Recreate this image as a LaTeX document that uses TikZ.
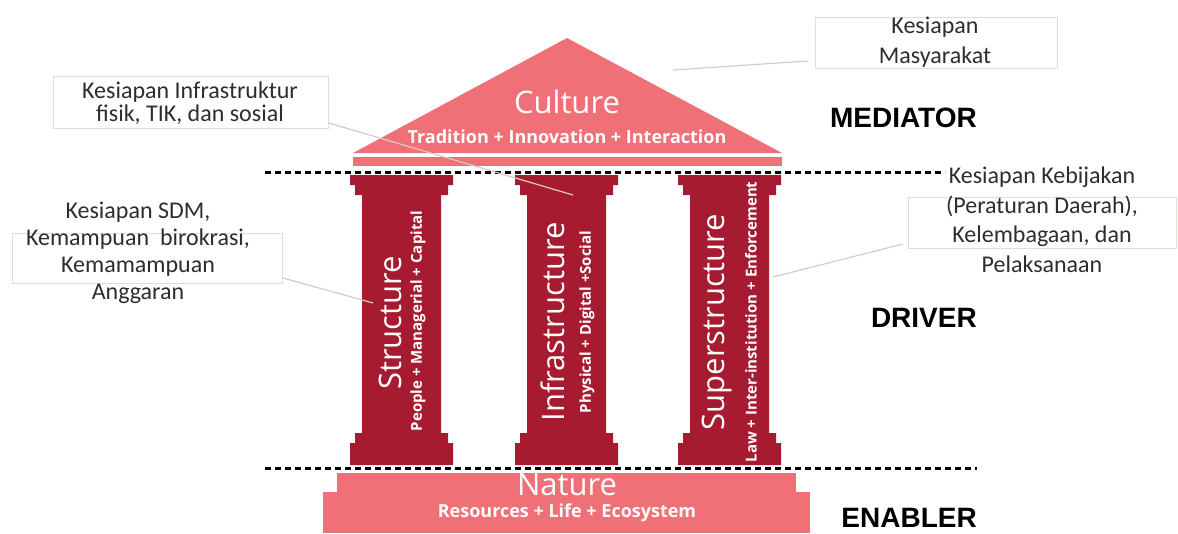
\documentclass[tikz,border=0pt]{standalone}
\usepackage{fontspec}
\setmainfont{Carlito}
\newfontfamily\pillarfont{Open Sans}
\newfontfamily\levelfont{Liberation Sans}
\definecolor{roofpink}{RGB}{240,112,120}
\definecolor{pillarred}{RGB}{166,27,48}
\definecolor{boxline}{RGB}{230,220,212}
\definecolor{leadline}{RGB}{222,200,196}
\definecolor{notetext}{RGB}{45,45,45}
\tikzset{
  title/.style={text=white, font=\pillarfont\fontsize{31}{31}\selectfont, inner sep=0pt},
  subtitle/.style={text=white, font=\pillarfont\bfseries\fontsize{15}{15}\selectfont, inner sep=0pt},
  bigsub/.style={subtitle, font=\pillarfont\bfseries\fontsize{18}{18}\selectfont},
  level/.style={anchor=east, font=\levelfont\bfseries\fontsize{28}{28}\selectfont, inner sep=0pt},
  note/.style={text=notetext, align=center, inner sep=0pt},
  notebox/.style={draw=boxline, line width=1pt, inner sep=0pt, anchor=north west},
  leader/.style={draw=leadline, line width=1.2pt},
  divider/.style={line width=3pt, dash pattern=on 6pt off 4pt}
}
\begin{document}
\begin{tikzpicture}[x=1pt, y=-1pt]
    \useasboundingbox (0,0) rectangle (1178,533);
    % note boxes (behind everything)
    \node[notebox, minimum width=275, minimum height=52] (infrabox) at (53,76) {};
    \node[notebox, minimum width=270, minimum height=50] (sdmbox) at (12,233) {};
    \node[notebox, minimum width=242, minimum height=51] (masbox) at (815,17) {};
    \node[notebox, minimum width=268, minimum height=51] (kebbox) at (908,197) {};
    % roof
    \fill[roofpink] (353,153) -- (567,38) -- (782,153) -- cycle;
    \fill[roofpink] (353,157) rectangle (782,166);
    \node[title] (culture) at (567,102) {Culture};
    \node[bigsub] (culturesub) at (567,137) {Tradition + Innovation + Interaction};
    % pillars
    \foreach \px in {350,515,678} {
        \fill[pillarred] (\px,175) -- (\px+103,175) -- (\px+103,185) -- (\px+98,185) -- (\px+98,195)
            -- (\px+91,195) -- (\px+91,433) -- (\px+98,433) -- (\px+98,443) -- (\px+103,443)
            -- (\px+103,465) -- (\px,465) -- (\px,443) -- (\px+5,443) -- (\px+5,433)
            -- (\px+12,433) -- (\px+12,195) -- (\px+5,195) -- (\px+5,185) -- (\px,185) -- cycle;
    }
    \node[title, rotate=90] (structure) at (390,323) {Structure};
    \node[subtitle, rotate=90] (structuresub) at (418,321) {People + Managerial + Capital};
    \node[title, rotate=90] (infra) at (553,322) {Infrastructure};
    \node[subtitle, rotate=90] (infrasub) at (587,322) {Physical + Digital +Social};
    \node[title, rotate=90] (super) at (717,322) {Superstructure};
    \node[subtitle, rotate=90] (supersub) at (751,322) {Law + Inter-institution + Enforcement};
    % base
    \fill[roofpink] (337,473) rectangle (796,492);
    \fill[roofpink] (323,492) rectangle (810,533);
    \node[title] (nature) at (567,485) {Nature};
    \node[bigsub] (naturesub) at (567,513) {Resources + Life + Ecosystem};
    % dividers
    \draw[divider] (265,172) -- (945,172);
    \draw[divider] (265,468) -- (977,468);
    % levels
    \node[level] (mediator) at (977,118) {MEDIATOR};
    \node[level] (driver) at (977,318) {DRIVER};
    \node[level] (enabler) at (977,518) {ENABLER};
    % notes
    \node[note, font=\fontsize{24}{23}\selectfont] (infranote) at (190,103) {Kesiapan Infrastruktur\\fisik, TIK, dan sosial};
    \node[note, font=\fontsize{24}{27}\selectfont] (sdmnote) at (138,253) {Kesiapan SDM,\\Kemampuan \ birokrasi,\\Kemamampuan\\Anggaran};
    \node[note, font=\fontsize{24}{30}\selectfont] (masnote) at (935,42) {Kesiapan\\Masyarakat};
    \node[note, font=\fontsize{24}{29.5}\selectfont] (kebnote) at (1042,220) {Kesiapan Kebijakan\\(Peraturan Daerah),\\Kelembagaan, dan\\Pelaksanaan};
    % leaders
    \coordinate (infratip) at (573,195);
    \coordinate (sdmtip) at (373,303);
    \coordinate (mastip) at (673,70);
    \coordinate (kebtip) at (773,277);
    \draw[leader] ([yshift=6pt]infrabox.south east) -- (infratip);
    \draw[leader] ([yshift=6pt]sdmbox.south east) -- (sdmtip);
    \draw[leader] ([xshift=-7pt, yshift=8pt]masbox.south west) -- (mastip);
    \draw[leader] ([xshift=-5pt, yshift=5pt]kebbox.south west) -- (kebtip);
\end{tikzpicture}
\end{document}
